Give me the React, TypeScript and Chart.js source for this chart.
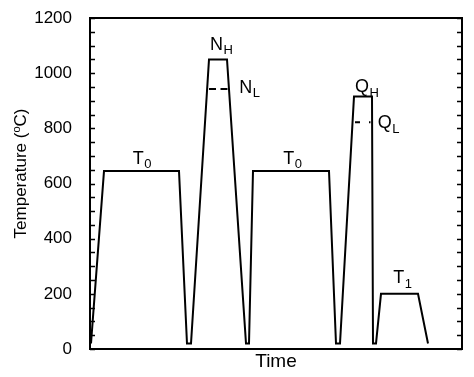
import React, { useEffect, useRef } from "react";
import { Chart, registerables } from "chart.js";

Chart.register(...registerables);

// Thermal profile (time in arbitrary units, temperature in °C)
const timeValues = [1, 14, 89, 97, 101, 119, 137, 156, 159, 163, 239, 246, 250, 264, 282, 283, 286, 291, 328, 338];
const tempValues = [20, 645, 645, 20, 20, 1050, 1050, 20, 20, 645, 645, 20, 20, 915, 915, 20, 20, 200, 200, 20];

// Dashed lower-temperature levels
const nLTimes = [119, 138];
const nLTemp = 943;
const qLTimes = [265, 280.5];
const qLTemp = 822;

// Annotation labels (main letter + subscript), anchored in data coordinates
const labelMain = ["T", "N", "N", "T", "Q", "Q", "T"];
const labelSub = ["0", "H", "L", "0", "H", "L", "1"];
const labelTimes = [42.7, 120, 149.3, 193.3, 265, 287.7, 303.3];
const labelTemps = [671, 1084, 929, 671, 931, 800, 238];

const yTickLabels = [0, 200, 400, 600, 800, 1000, 1200];
// y title pieces: "Temperature (" + superscript "o" + "C)"
const yTitleParts = ["Temperature (", "o", "C)"];
const xTitle = "Time";

const FONT = "Arial, 'Liberation Sans', sans-serif";

export default function App() {
  const ref = useRef<HTMLCanvasElement | null>(null);

  useEffect(() => {
    if (!ref.current) return;

    const framePlugin = {
      id: "frameAndTicks",
      afterDraw(chart: any) {
        const { ctx, chartArea } = chart;
        const ys = chart.scales.y;
        const xs = chart.scales.x;
        ctx.save();
        // inward minor/major ticks on left and right
        ctx.strokeStyle = "#000";
        ctx.lineWidth = 1.5;
        ys.ticks.forEach((t: any) => {
          const py = Math.round(ys.getPixelForValue(t.value)) + 0.5;
          ctx.beginPath();
          ctx.moveTo(chartArea.left, py);
          ctx.lineTo(chartArea.left + 5, py);
          ctx.moveTo(chartArea.right, py);
          ctx.lineTo(chartArea.right - 5, py);
          ctx.stroke();
        });
        // frame
        ctx.lineWidth = 2;
        ctx.strokeRect(chartArea.left, chartArea.top, chartArea.right - chartArea.left, chartArea.bottom - chartArea.top);

        // annotation labels with subscripts
        ctx.fillStyle = "#000";
        ctx.textBaseline = "alphabetic";
        ctx.textAlign = "left";
        for (let i = 0; i < labelMain.length; i++) {
          const px = xs.getPixelForValue(labelTimes[i]);
          const py = ys.getPixelForValue(labelTemps[i]);
          ctx.font = `18px ${FONT}`;
          ctx.fillText(labelMain[i], px, py);
          const w = ctx.measureText(labelMain[i]).width;
          ctx.font = `13px ${FONT}`;
          ctx.fillText(labelSub[i], px + w + 0.5, py + 4.5);
        }

        // y axis title with superscript "o"
        ctx.save();
        ctx.translate(26, (chartArea.top + chartArea.bottom) / 2 - 10);
        ctx.rotate(-Math.PI / 2);
        ctx.textAlign = "left";
        ctx.textBaseline = "alphabetic";
        const big = `17px ${FONT}`;
        const small = `11px ${FONT}`;
        ctx.font = big;
        const w1 = ctx.measureText(yTitleParts[0]).width;
        const w3 = ctx.measureText(yTitleParts[2]).width;
        ctx.font = small;
        const w2 = ctx.measureText(yTitleParts[1]).width;
        let cx = -(w1 + w2 + w3) / 2;
        ctx.font = big;
        ctx.fillText(yTitleParts[0], cx, 0);
        cx += w1;
        ctx.font = small;
        ctx.fillText(yTitleParts[1], cx, -6);
        cx += w2;
        ctx.font = big;
        ctx.fillText(yTitleParts[2], cx, 0);
        ctx.restore();

        ctx.restore();
      },
    };

    const chart = new Chart(ref.current, {
      type: "line",
      data: {
        datasets: [
          {
            data: timeValues.map((t, i) => ({ x: t, y: tempValues[i] })),
            borderColor: "#000",
            borderWidth: 2,
            pointRadius: 0,
            tension: 0,
            fill: false,
          },
          {
            data: nLTimes.map((t) => ({ x: t, y: nLTemp })),
            borderColor: "#000",
            borderWidth: 2,
            borderDash: [7, 4.5],
            pointRadius: 0,
            fill: false,
          },
          {
            data: qLTimes.map((t) => ({ x: t, y: qLTemp })),
            borderColor: "#000",
            borderWidth: 2,
            borderDash: [5, 9],
            pointRadius: 0,
            fill: false,
          },
        ],
      },
      options: {
        animation: false,
        responsive: false,
        events: [],
        layout: { padding: { left: 0, right: 12, top: 18, bottom: 0 } },
        plugins: { legend: { display: false }, tooltip: { enabled: false } },
        scales: {
          x: {
            type: "linear",
            min: 0,
            max: 372,
            grid: { display: false, drawTicks: false },
            border: { display: false },
            ticks: { display: false },
            title: {
              display: true,
              text: xTitle,
              color: "#000",
              font: { family: FONT, size: 19 },
              padding: { top: 0, bottom: 4 },
            },
            afterFit(s: any) {
              s.height = 28;
              s.paddingLeft = 0;
              s.paddingRight = 0;
            },
          },
          y: {
            type: "linear",
            min: 0,
            max: 1200,
            grid: { display: false, drawTicks: false },
            border: { display: false },
            ticks: {
              stepSize: 50,
              autoSkip: false,
              padding: 18,
              color: "#000",
              font: { family: FONT, size: 17 },
              callback: (v: any) => (yTickLabels.includes(Number(v)) ? String(v) : ""),
            },
            afterFit(s: any) {
              s.width = 90;
              s.paddingTop = 0;
              s.paddingBottom = 0;
            },
          },
        },
      },
      plugins: [framePlugin],
    });

    return () => chart.destroy();
  }, []);

  return (
    <div style={{ position: "fixed", left: 0, top: 0, width: 474, height: 377, background: "#fff" }}>
      <canvas ref={ref} width={474} height={377} />
    </div>
  );
}
